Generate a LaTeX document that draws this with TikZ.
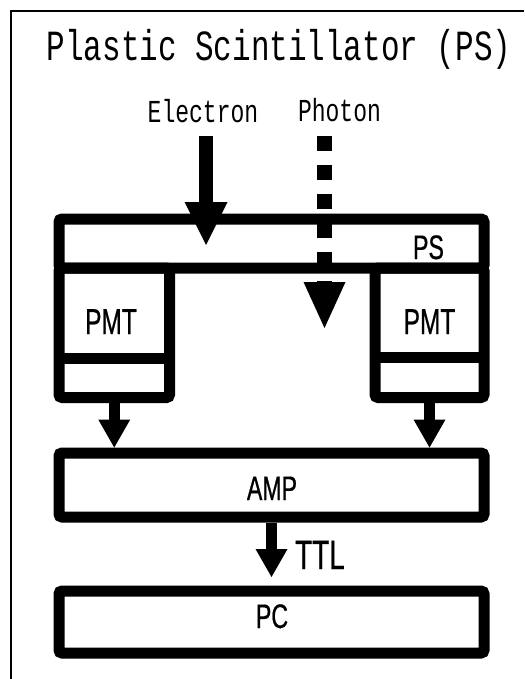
\documentclass[tikz,border=0pt]{standalone}
\usepackage{fontspec}
\usetikzlibrary{arrows.meta}
\newfontfamily\monofont[FakeStretch=0.72]{Liberation Mono}
\newfontfamily\uzkyfont[FakeStretch=0.68, FakeBold=0.6]{Liberation Sans}
\tikzset{
  blok/.style={draw, line width=11pt, rounded corners=3pt, inner sep=0pt},
  sipka/.style={line width=11pt, -{Triangle[width=32pt,length=28pt,line width=0pt]}},
  popis/.style={anchor=base, inner sep=0pt, font=\uzkyfont\fontsize{34}{34}\selectfont},
  nadpis/.style={anchor=base, inner sep=0pt, font=\monofont\fontsize{32}{32}\selectfont},
}
\begin{document}
\begin{tikzpicture}[x=1pt, y=-1pt]
  \useasboundingbox (0,0) rectangle (524,679);
  % rámeček
  \draw[line width=1.5pt] (11,679) -- (11,11) -- (524,11);
  % nadpis
  \node[nadpis, font=\monofont\fontsize{43}{43}\selectfont] (titulek) at (279,61) {Plastic Scintillator (PS)};

  % scintilátor
  \node[blok, minimum width=425pt, minimum height=49pt] (ps) at (271.5,243.5) {};
  \node[popis] (psText) at (428.5,259) {PS};
  % levý PMT
  \node[blok, minimum width=110.5pt, minimum height=129.5pt] (pmtL) at (114.25,332.75) {};
  \draw[line width=11pt] (59,358) -- (169.5,358);
  \node[popis, font=\uzkyfont\fontsize{36}{36}\selectfont] (pmtLText) at (111,334) {PMT};
  % pravý PMT
  \node[blok, minimum width=109pt, minimum height=129.5pt] (pmtR) at (429.5,332.75) {};
  \draw[line width=11pt] (375,357) -- (484,357);
  \node[popis, font=\uzkyfont\fontsize{36}{36}\selectfont] (pmtRText) at (429.5,334) {PMT};
  % zesilovač a počítač
  \node[blok, minimum width=425pt, minimum height=64pt] (amp) at (271.5,485) {};
  \node[popis] (ampText) at (272,500) {AMP};
  \node[blok, minimum width=425pt, minimum height=62pt] (pc) at (271.5,622) {};
  \node[popis] (pcText) at (272,628) {PC};

  % signály
  \draw[sipka] (pmtL.south) -- (pmtL.south |- amp.north);
  \draw[sipka] (pmtR.south) -- (pmtR.south |- amp.north);
  \coordinate (ttlKonec) at (271.5,577);
  \draw[sipka] (amp.south) -- (ttlKonec);
  \node[popis, anchor=base west, font=\uzkyfont\fontsize{41}{41}\selectfont] (ttl) at (295,569) {TTL};

  % elektron
  \node[nadpis] (elektron) at (203,123) {Electron};
  \coordinate (eStart) at (206,136);
  \coordinate (eKonec) at (206,245);
  \draw[line width=14pt, -{Triangle[width=43pt,length=43pt,line width=0pt]}] (eStart) -- (eKonec);
  % foton
  \node[nadpis] (foton) at (339.5,122) {Photon};
  \coordinate (fStart) at (324.5,136);
  \coordinate (fKonec) at (324.5,328);
  \draw[line width=15pt, dash pattern=on 15pt off 14pt, -{Triangle[width=42pt,length=46pt,line width=0pt]}] (fStart) -- (fKonec);
\end{tikzpicture}
\end{document}
